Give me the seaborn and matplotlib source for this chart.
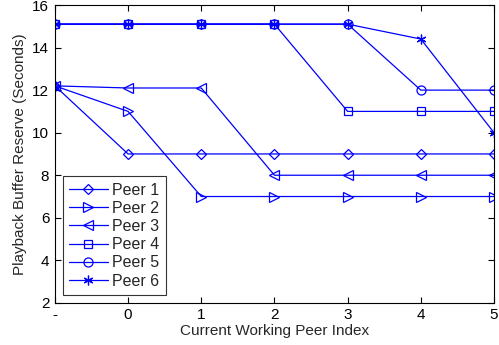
import matplotlib
matplotlib.use("Agg")
import matplotlib.pyplot as plt
import seaborn as sns
import pandas as pd

sns.set_theme(style="white")
plt.rcParams['font.family'] = ['Liberation Sans', 'DejaVu Sans']

x_vals = [-1, 0, 1, 2, 3, 4, 5]
x_labels = ["-", "0", "1", "2", "3", "4", "5"]
peer1 = [12.2, 9, 9, 9, 9, 9, 9]
peer2 = [12.2, 11, 7, 7, 7, 7, 7]
peer3 = [12.2, 12.1, 12.1, 8, 8, 8, 8]
peer4 = [15.1, 15.1, 15.1, 15.1, 11, 11, 11]
peer5 = [15.1, 15.1, 15.1, 15.1, 15.1, 12, 12]
peer6 = [15.1, 15.1, 15.1, 15.1, 15.1, 14.4, 10]
names = ["Peer 1", "Peer 2", "Peer 3", "Peer 4", "Peer 5", "Peer 6"]
series = [peer1, peer2, peer3, peer4, peer5, peer6]
markers = ["D", ">", "<", "s", "o", "*"]
msizes = [5, 7, 7, 5.5, 6.5, 7]

rows = []
for n, s in zip(names, series):
    for xv, yv in zip(x_vals, s):
        rows.append({"x": xv, "y": yv, "peer": n})
df = pd.DataFrame(rows)

fig = plt.figure(figsize=(4.99, 3.45), dpi=100)
ax = fig.add_axes([0.110, 0.122, 0.880, 0.8635])
blue = "#0000ff"
for n, m, ms in zip(names, markers, msizes):
    sub = df[df["peer"] == n]
    if m == "*":
        sns.lineplot(data=sub, x="x", y="y", ax=ax, color=blue, lw=0.9,
                     marker=(6, 2, 0), markersize=ms, markeredgecolor=blue,
                     markeredgewidth=0.9, label=n)
    else:
        sns.lineplot(data=sub, x="x", y="y", ax=ax, color=blue, lw=0.9,
                     marker=m, markersize=ms, markerfacecolor="none",
                     markeredgecolor=blue, markeredgewidth=0.9, label=n)

ax.set_xlim(-1, 5)
ax.set_ylim(2, 16)
ax.set_xticks(x_vals)
ax.set_xticklabels(x_labels)
ax.set_yticks([2, 4, 6, 8, 10, 12, 14, 16])
ax.set_xlabel("Current Working Peer Index", fontsize=11, labelpad=1)
ax.set_ylabel("Playback Buffer Reserve (Seconds)", fontsize=11, labelpad=4)
ax.tick_params(axis="both", labelsize=11, direction="in", length=4, width=0.8,
               top=True, right=True, bottom=True, left=True, pad=4, colors="black")
for sp in ax.spines.values():
    sp.set_visible(True)
    sp.set_color("black")
    sp.set_linewidth(0.8)
leg = ax.legend(loc="lower left", fontsize=11.5, frameon=True, fancybox=False,
                borderaxespad=0.5, handlelength=2.4, labelspacing=0.2,
                borderpad=0.4, handletextpad=0.3)
leg.get_frame().set_edgecolor("black")
leg.get_frame().set_linewidth(0.8)
fig.savefig("out.png", dpi=100)
